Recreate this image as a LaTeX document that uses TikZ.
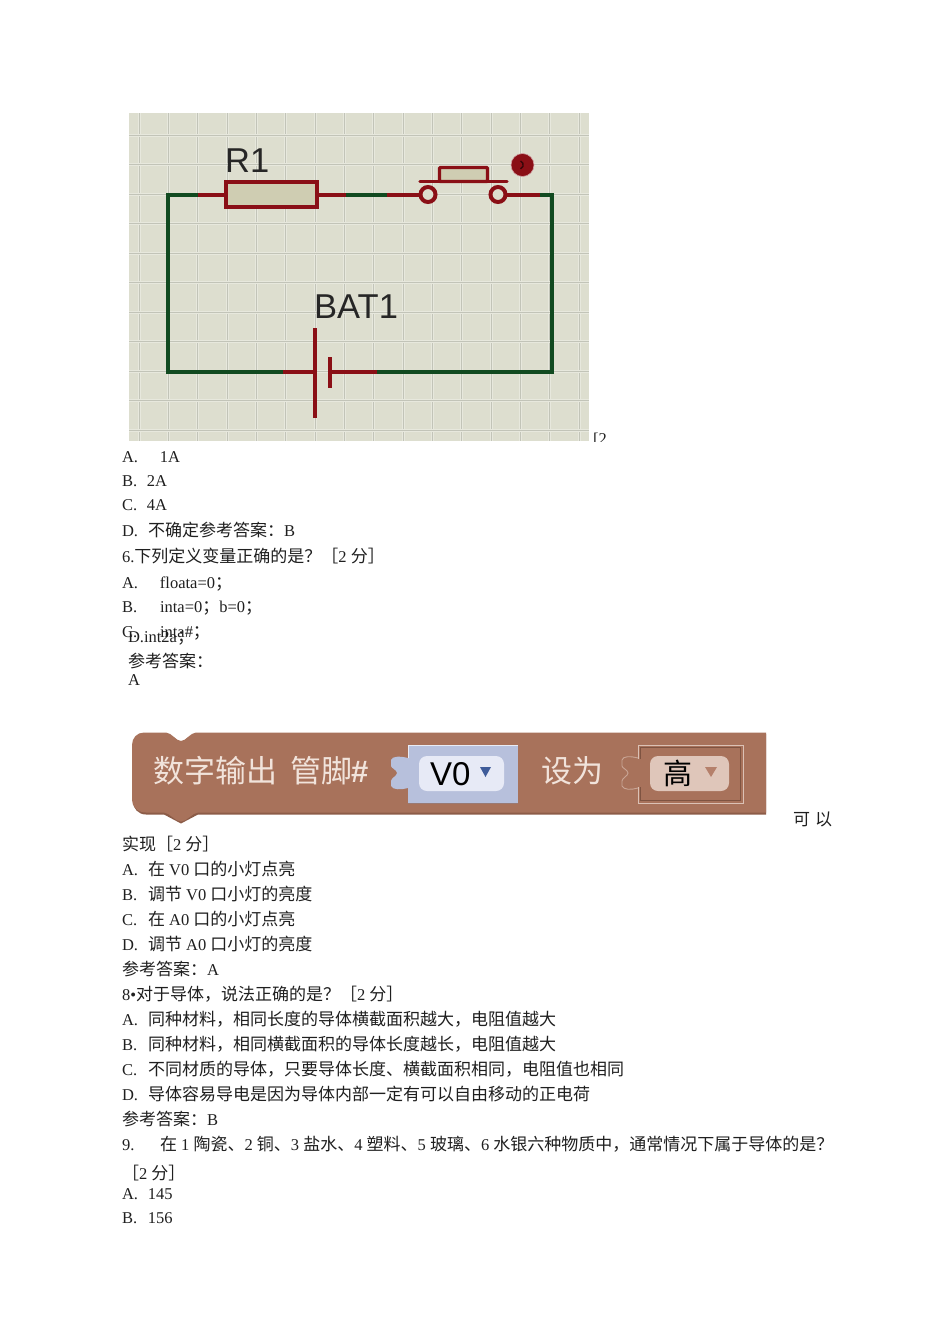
\documentclass[tikz,border=0pt]{standalone}
\usepackage{fontspec}
\setmainfont{Liberation Serif}
\newfontfamily\cjk{Noto Sans CJK SC}
\newfontfamily\arial{Liberation Sans}
\newcommand{\zh}[1]{{\cjk\fontsize{17}{18}\selectfont #1}}
\newcommand{\lbl}[2]{\makebox[#1pt][l]{#2}}
\definecolor{gridbg}{HTML}{DDDECF}
\definecolor{gridln}{HTML}{C2C4B8}
\definecolor{gridlt}{HTML}{E7E8DD}
\definecolor{wred}{HTML}{8A0F16}
\definecolor{wgreen}{HTML}{114A20}
\definecolor{parchm}{HTML}{CFCDB2}
\definecolor{brickb}{HTML}{A8725B}
\definecolor{brickd}{HTML}{8C5C48}
\definecolor{bluebk}{HTML}{B7C0DC}
\definecolor{bluepl}{HTML}{E7EAF6}
\definecolor{bluetr}{HTML}{3F5C9A}
\definecolor{rosepl}{HTML}{DFC6BA}
\definecolor{rosetr}{HTML}{B5806B}
\definecolor{creamt}{HTML}{F1E3DB}
\tikzset{
  txt/.style={anchor=base west,inner sep=0pt,outer sep=0pt,font=\fontsize{16.5}{18}\selectfont,text=black!88},
  wiregreen/.style={draw=wgreen,line width=4pt,line join=miter},
  wirered/.style={draw=wred,line width=4pt},
  partbox/.style={draw=wred,line width=4pt,fill=parchm,rectangle,inner sep=0pt,outer sep=0pt},
  terminal/.style={draw=wred,line width=4pt,fill=gridbg,circle,inner sep=0pt,outer sep=0pt,minimum size=15pt},
  schem/.style={anchor=base west,inner sep=0pt,font=\arial\fontsize{34.5}{36}\selectfont,text=black!85},
  blocktxt/.style={anchor=base west,inner sep=0pt,font=\cjk\fontsize{31}{34}\selectfont,text=creamt},
  pill/.style={rectangle,rounded corners=8pt,inner sep=0pt,outer sep=0pt},
}
\begin{document}
\begin{tikzpicture}[x=1pt,y=-1pt]
\useasboundingbox (0,0) rectangle (950,1344);
\fill[white] (0,0) rectangle (950,1344);
% circuit picture
\begin{scope}
\clip (129,113) rectangle (589,441);
\fill[gridbg] (129,113) rectangle (589,441);
\foreach \i in {0,...,15} {
  \draw[gridlt,line width=3pt] ({139+29.35*\i},113) -- ({139+29.35*\i},441);
  \draw[gridln,line width=1pt] ({139+29.35*\i},113) -- ({139+29.35*\i},441);
}
\foreach \i in {0,...,11} {
  \draw[gridlt,line width=3pt] (129,{135+29.5*\i}) -- (589,{135+29.5*\i});
  \draw[gridln,line width=1pt] (129,{135+29.5*\i}) -- (589,{135+29.5*\i});
}
\end{scope}
\coordinate (tl) at (167.5,194.5);
\coordinate (tr) at (551.5,194.5);
\coordinate (br) at (551.5,372);
\coordinate (bl) at (167.5,372);
\node[partbox,minimum width=91pt,minimum height=25pt] (r1) at (271,194.5) {};
\node[terminal] (swl) at (428,194.5) {};
\node[terminal] (swr) at (498,194.5) {};
\coordinate (rl) at (198,194.5);
\coordinate (rr) at (346,194.5);
\coordinate (sl) at (387,194.5);
\coordinate (sr) at (540,194.5);
\coordinate (batl) at (283,372);
\coordinate (batp) at (315,372);
\coordinate (batn) at (330,372);
\coordinate (batr) at (377,372);
\draw[wiregreen,line cap=square] (rl) -- (tl) -- (bl) -- (batl);
\draw[wiregreen] (rr) -- (sl);
\draw[wiregreen,line cap=square] (sr) -- (tr) -- (br) -- (batr);
\draw[wirered] (rl) -- (r1.west);
\draw[wirered] (r1.east) -- (rr);
\draw[wirered] (sl) -- (swl.west);
\draw[wirered] (swr.east) -- (sr);
\coordinate (barl) at (420,181.5);
\coordinate (barr) at (507,181.5);
\draw[wirered,line cap=round,line width=3.4pt] (barl) -- (barr);
\node[partbox,line width=3.4pt,minimum width=48pt,minimum height=14pt,rounded corners=1pt] (btn) at (463.5,174.5) {};
\node[circle,fill=wred,inner sep=0pt,minimum size=23pt,draw=wred!40,line width=0.6pt] (dot) at (522.5,165) {};
\draw[black!60!wred,line width=1.4pt] (dot.center) ++(-2,-4) arc (-70:70:4.2);
\coordinate (plt) at (315,328);
\coordinate (plb) at (315,418);
\coordinate (pst) at (330,357);
\coordinate (psb) at (330,388);
\draw[wirered] (batl) -- (batp);
\draw[wirered] (batn) -- (batr);
\draw[wirered,line width=4.4pt] (plt) -- (plb);
\draw[wirered,line width=4.4pt] (pst) -- (psb);
\node[schem] (lr1) at (225,172.5) {R1};
\node[schem] (lbat) at (314,318) {BAT1};
% clipped mark after picture
\begin{scope}
\clip (585,425) rectangle (620,441);
\node[txt] (cut2) at (593,444) {[2};
\end{scope}
% first text lines
\node[txt] (a1) at (122,462) {\lbl{38}{A.}1A};
\node[txt] (a2) at (122,486) {\lbl{25}{B.}2A};
\node[txt] (a3) at (122,510) {\lbl{25}{C.}4A};
\node[txt] (a4) at (122,536) {\lbl{26}{D.}\zh{不确定参考答案：}B};
\node[txt] (a5) at (122,562) {6.\zh{下列定义变量正确的是？［}2 \zh{分］}};
\node[txt] (a6) at (122,588) {\lbl{38}{A.}floata=0\zh{；}};
\node[txt] (a7) at (122,612) {\lbl{38}{B.}inta=0\zh{；}b=0\zh{；}};
\node[txt] (a8) at (122,637) {\lbl{38}{C.}inta\#\zh{；}};
\node[txt] (a9) at (128,642) {D.int2a\zh{；}};
\node[txt] (a10) at (128,667) {\zh{参考答案：}};
\node[txt] (a11) at (128,685) {A};
% block
\fill[brickd] (144,734) -- (166,734) -- (181,742) -- (196,734) -- (766,734)
  -- (766,814.5) -- (198,814.5) -- (181,823.5) -- (164,814.5) -- (146,814.5)
  .. controls (138,814.5) and (133,808) .. (133,802) -- (133,746) .. controls (133,739) and (138,734) .. (144,734) -- cycle;
\fill[brickb] (144,732.5) -- (166,732.5) .. controls (172,733) and (176,741) .. (181,741) .. controls (186,741) and (190,733) .. (196,732.5) -- (766,732.5)
  -- (766,812.5) -- (198,812.5) .. controls (192,813) and (187,821.5) .. (181,821.5) .. controls (175,821.5) and (170,813) .. (164,812.5) -- (146,812.5)
  .. controls (137,812.5) and (132,806) .. (132,800) -- (132,745) .. controls (132,738) and (137,732.5) .. (144,732.5) -- cycle;
\node[blocktxt] (bk1) at (153,782.5) {数字输出};
\node[blocktxt] (bk2) at (290,782.5) {管脚\kern-1pt{\arial\bfseries\#}};
\node[blocktxt] (bk3) at (541,782.5) {设为};
% blue socket
\fill[bluebk] (408,745) rectangle (518,803);
\fill[bluebk] (408,758) .. controls (400,756) and (392,756) .. (391,760)
  -- (391,766) .. controls (391,768) and (397,770) .. (397,773)
  .. controls (397,776) and (391,778) .. (391,781) -- (391,786)
  .. controls (393,790) and (401,790) .. (408,788) -- cycle;
\draw[white!70!bluebk,line width=0.8pt] (408,758) -- (408,745) -- (518,745);
\draw[brickd!70!bluebk,line width=0.8pt] (408,803.5) -- (518,803.5);
\node[pill,fill=bluepl,minimum width=85pt,minimum height=35pt] (pv) at (461.5,773.5) {};
\node[anchor=base west,inner sep=0pt,font=\arial\fontsize{33}{36}\selectfont,text=black] (v0) at (430,785) {V0};
\fill[bluetr] (480,767) -- (491,767) -- (485.5,777) -- cycle;
% rose socket
\draw[creamt!70!brickb,line width=0.9pt] (638,745) rectangle (743,803);
\draw[brickd!90!black,line width=0.7pt] (640.5,747.5) rectangle (740.5,800.5);
\fill[brickb] (634,759) rectangle (642,787);
\draw[creamt!45!brickb,line width=0.9pt] (638,758) .. controls (630,756) and (623,756) .. (622,760)
  -- (622,766) .. controls (622,768) and (628,770) .. (628,773)
  .. controls (628,776) and (622,778) .. (622,781) -- (622,786)
  .. controls (624,790) and (631,790) .. (638,788);
\node[pill,fill=rosepl,minimum width=79pt,minimum height=35pt] (ph) at (689.5,773.5) {};
\node[anchor=base west,inner sep=0pt,font=\cjk\fontsize{29}{32}\selectfont,text=black] (gao) at (663.5,784) {高};
\fill[rosetr] (705,767) -- (717,767) -- (711,777) -- cycle;
% lower text
\node[txt] (b0) at (793,825) {\zh{可}};
\node[txt] (b00) at (815,825) {\zh{以}};
\node[txt] (b1) at (122,850) {\zh{实现［}2 \zh{分］}};
\node[txt] (b2) at (122,875) {\lbl{26}{A.}\zh{在} V0 \zh{口的小灯点亮}};
\node[txt] (b3) at (122,900) {\lbl{26}{B.}\zh{调节} V0 \zh{口小灯的亮度}};
\node[txt] (b4) at (122,925) {\lbl{26}{C.}\zh{在} A0 \zh{口的小灯点亮}};
\node[txt] (b5) at (122,950) {\lbl{26}{D.}\zh{调节} A0 \zh{口小灯的亮度}};
\node[txt] (b6) at (122,975) {\zh{参考答案：}A};
\node[txt] (b7) at (122,1000) {8•\zh{对于导体，说法正确的是？［}2 \zh{分］}};
\node[txt] (b8) at (122,1025) {\lbl{26}{A.}\zh{同种材料，相同长度的导体横截面积越大，电阻值越大}};
\node[txt] (b9) at (122,1050) {\lbl{26}{B.}\zh{同种材料，相同横截面积的导体长度越长，电阻值越大}};
\node[txt] (b10) at (122,1075) {\lbl{26}{C.}\zh{不同材质的导体，只要导体长度、横截面积相同，电阻值也相同}};
\node[txt] (b11) at (122,1100) {\lbl{26}{D.}\zh{导体容易导电是因为导体内部一定有可以自由移动的正电荷}};
\node[txt] (b12) at (122,1125) {\zh{参考答案：}B};
\node[txt] (b13) at (122,1150) {\lbl{38}{9.}\zh{在} 1 \zh{陶瓷、}2 \zh{铜、}3 \zh{盐水、}4 \zh{塑料、}5 \zh{玻璃、}6 \zh{水银六种物质中，通常情况下属于导体的是？}};
\node[txt] (b14) at (122,1179) {\zh{［}2 \zh{分］}};
\node[txt] (b15) at (122,1199) {\lbl{26}{A.}145};
\node[txt] (b16) at (122,1223) {\lbl{26}{B.}156};
\end{tikzpicture}
\end{document}
